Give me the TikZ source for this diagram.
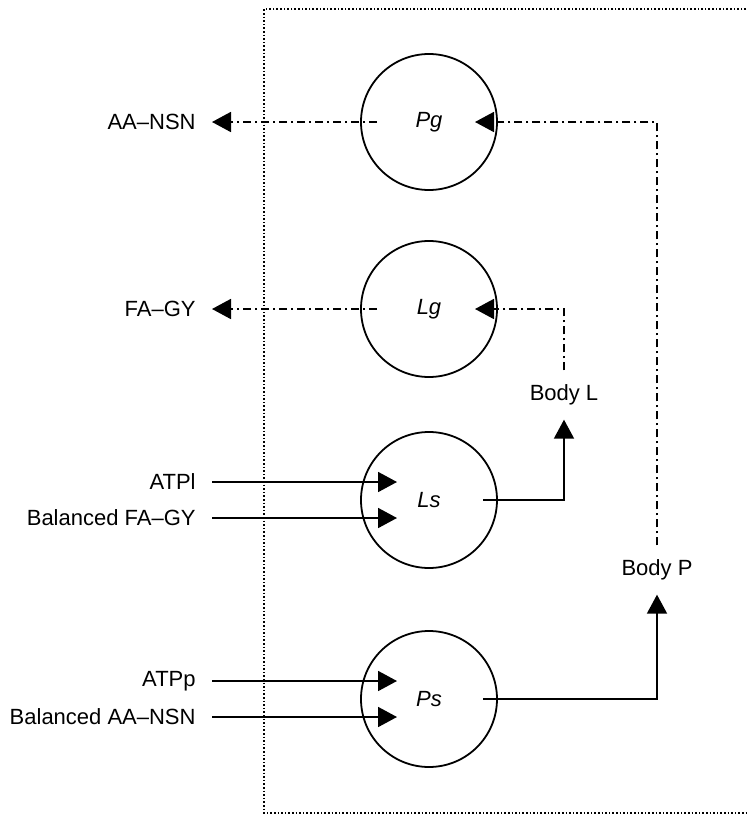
\documentclass[tikz,border=0pt]{standalone}
\usepackage{fontspec}
\setmainfont{Liberation Sans}
\usetikzlibrary{arrows.meta,calc}

\begin{document}
\begin{tikzpicture}[x=0.5pt,y=-0.5pt,
  pool/.style={draw,circle,line width=0.9pt,minimum size=68pt,inner sep=0pt,font=\fontsize{11}{13}\selectfont\itshape},
  src/.style={anchor=east,inner xsep=8pt,inner ysep=0pt,font=\fontsize{11}{13}\selectfont},
  body/.style={inner xsep=0pt,inner ysep=7pt,font=\fontsize{11}{13}\selectfont},
  flow/.style={line width=0.9pt,-{Triangle[length=9.5pt,width=10pt]}},
  dashflow/.style={flow,dash pattern=on 4pt off 2pt on 1pt off 2pt}]
  \useasboundingbox (0,0) rectangle (746,815);
  % open dotted frame
  \draw[densely dotted,line width=0.8pt] (746,9) -- (264,9) -- (264,813) -- (746,813);
  % pools
  \node[pool] (Pg) at (429,122) {Pg};
  \node[pool] (Lg) at (429,309) {Lg};
  \node[pool] (Ls) at (429,500) {Ls};
  \node[pool] (Ps) at (429,699) {Ps};
  % outside labels
  \node[src] (aansn) at (212,122) {AA--NSN};
  \node[src] (fagy) at (212,309) {FA--GY};
  \node[src] (atpl) at (212,482) {ATPl};
  \node[src] (balfa) at (212,518) {Balanced FA--GY};
  \node[src] (atpp) at (212,681) {ATPp};
  \node[src] (balaa) at (212,717) {Balanced AA--NSN};
  \node[body] (bodyL) at (564,395) {Body L};
  \node[body] (bodyP) at (657,570) {Body P};
  % losses
  \draw[dashflow] ($(Pg)+(-52,0)$) -- (aansn.east);
  \draw[dashflow] ($(Lg)+(-52,0)$) -- (fagy.east);
  % intakes
  \draw[flow] (atpl.east) -- ($(Ls)+(-32,-18)$);
  \draw[flow] (balfa.east) -- ($(Ls)+(-32,18)$);
  \draw[flow] (atpp.east) -- ($(Ps)+(-32,-18)$);
  \draw[flow] (balaa.east) -- ($(Ps)+(-32,18)$);
  % storage to body and back
  \draw[flow] ($(Ls)+(54,0)$) -| (bodyL.south);
  \draw[flow] ($(Ps)+(54,0)$) -| (bodyP.south);
  \draw[dashflow] (bodyL.north) |- ($(Lg)+(46,0)$);
  \draw[dashflow] (bodyP.north) |- ($(Pg)+(46,0)$);
\end{tikzpicture}
\end{document}
